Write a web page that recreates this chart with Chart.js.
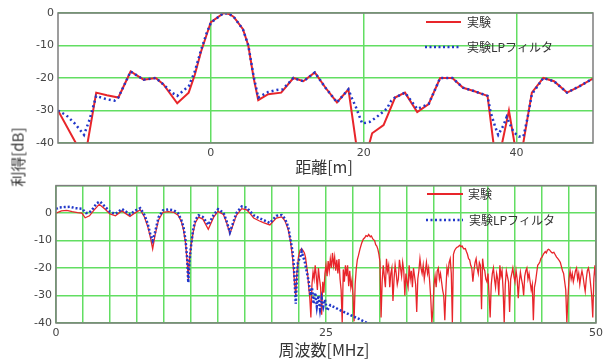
<!DOCTYPE html>
<html>
<head>
<meta charset="utf-8">
<script src="https://cdn.jsdelivr.net/npm/chart.js@4"></script>
<style>
  body { margin: 0; background: #fff; width: 608px; height: 361px; position: relative; overflow: hidden; font-family: "Noto Sans CJK JP", sans-serif; }
  #topChart { position: absolute; left: 0; top: 0; }
  #bottomChart { position: absolute; left: 0; top: 175px; }
  .title { position: absolute; color: #333; font-size: 16px; white-space: nowrap; transform: translate(-50%, -50%); }
  .ytitle { font-size: 15px; transform: translate(-50%, -50%) rotate(-90deg); }
</style>
</head>
<body>
<canvas id="topChart" width="608" height="180"></canvas>
<canvas id="bottomChart" width="608" height="186"></canvas>
<div class="title" style="left:324px; top:166px;">距離[m]</div>
<div class="title" style="left:324px; top:349px;">周波数[MHz]</div>
<div class="title ytitle" style="left:17px; top:157px;">利得[dB]</div>
<script>
// 上段: 距離応答 (x: 距離[m], y: 利得[dB])
const distRed = [-20, -16.5, -15, -13.6, -12.1, -10.5, -8.8, -7.2, -6.2, -4.4, -2.9, -2.1, -1.3, -0.6, 0, 1.7, 2.4, 3, 4.2, 4.9, 5.6, 6.2, 7.5, 9.2, 10.8, 12.1, 13.6, 15, 16.5, 18, 19.6, 21.1, 22.6, 24.1, 25.4, 27, 28.5, 30, 31.6, 33, 34.4, 36.2, 37.4, 39, 40.3, 42, 43.5, 44.9, 46.6, 48.1, 49.9, 50]
const gainRed = [-30, -45, -24.5, -25.3, -26, -18, -20.5, -20, -22, -27.8, -24.5, -19, -12, -7, -2.8, 0, -0.3, -1.2, -5, -10, -20, -26.8, -25, -24.5, -20, -21, -18.3, -23, -27.5, -23.5, -50, -37, -34.5, -26, -24.5, -30.5, -28, -20, -20, -23, -24, -25.5, -48, -30, -48, -24.5, -20, -21, -24.5, -22.7, -20.3, -20.5]

const distLP = [-20, -18.9, -17.8, -16.6, -15.9, -15, -13.7, -12.6, -12.1, -10.5, -8.8, -7.2, -6.2, -5.1, -4.4, -2.9, -2.1, -1.3, -0.6, 0, 1.7, 2.4, 3, 4.2, 4.9, 5.6, 6.2, 7.5, 8.6, 9.4, 10.8, 12.1, 13.6, 15, 16.5, 18, 18.5, 18.9, 19.8, 20.8, 21.7, 23, 23.6, 24.1, 25.4, 27, 28.5, 30, 31.6, 33, 34.4, 36.2, 36.6, 37.2, 37.6, 38.3, 38.7, 39.6, 40.3, 40.9, 41.5, 42, 43.5, 44.9, 46.6, 48.1, 49.9, 50]
const gainLP = [-30, -31.5, -34, -37.5, -33, -25.5, -26.5, -27, -26, -18, -20.5, -20, -22, -24.5, -25.5, -22.5, -18, -11.5, -6.5, -3, 0, -0.3, -1.2, -5, -10, -19.5, -26, -24.3, -23.7, -23.5, -20, -21, -18.3, -23, -27.5, -23.5, -26.5, -28.5, -34, -33.5, -32, -29.5, -27, -26, -24.5, -29.5, -28, -20, -20, -23, -24, -25.5, -30.5, -35, -37.5, -34.5, -32, -36.6, -38, -38, -31.5, -25, -20, -21, -24.5, -22.7, -20.3, -20.5]
const distTicks = [0, 20, 40]

// 下段: 周波数応答 (x: 周波数[MHz], y: 利得[dB])
const freqRed = [
  0, 0.5, 1, 1.5, 2, 2.4, 2.7, 3.1, 3.5, 4, 4.5, 5, 5.5, 6.1, 6.5, 6.85, 7.3, 7.8, 8.2, 8.5,
  8.75, 8.95, 9.17, 9.5, 9.9, 10.4, 10.9, 11.3, 11.6, 11.8, 12, 12.15, 12.25, 12.35, 12.5, 12.7, 12.9, 13.2, 13.6, 14.1,
  14.6, 15, 15.5, 15.8, 16.1, 16.4, 16.7, 17.2, 17.65, 18, 18.3, 18.8, 19.2, 19.8, 20.4, 20.9, 21.2, 21.5, 21.7, 21.9,
  22, 22.1, 22.2, 22.3, 22.45, 22.6, 22.75, 22.9,
  23, 23.1, 23.2, 23.3, 23.4, 23.5, 23.6, 23.7, 23.8, 23.9,
  24, 24.1, 24.2, 24.3, 24.4, 24.5, 24.6, 24.7, 24.8, 24.9,
  25, 25.1, 25.2, 25.3, 25.4, 25.5, 25.6, 25.7, 25.8, 25.9,
  26, 26.1, 26.2, 26.3, 26.4, 26.5, 26.6, 26.7, 26.8, 26.9,
  27, 27.1, 27.2, 27.3, 27.4, 27.5, 27.6, 27.7, 27.8, 27.9,
  28, 28.15, 28.3, 28.45, 28.6, 28.7, 28.85, 28.95, 29.1, 29.2,
  29.35, 29.5, 29.6, 29.7, 29.8, 29.9, 30, 30.1,
  30.2, 30.3, 30.4, 30.5, 30.6, 30.7, 30.8, 30.9, 31, 31.1,
  31.2, 31.3, 31.4, 31.5, 31.6, 31.7, 31.8, 31.9, 32, 32.1,
  32.2, 32.3, 32.4, 32.5, 32.6, 32.7, 32.8, 32.9, 33, 33.1,
  33.2, 33.3, 33.4, 33.5, 33.6, 33.7, 33.8, 33.9, 34, 34.1,
  34.2, 34.3, 34.4, 34.5, 34.6, 34.7, 34.8, 34.9, 35, 35.1,
  35.2, 35.3, 35.4, 35.5, 35.6, 35.7, 35.8, 35.9, 36, 36.1,
  36.2, 36.3, 36.4, 36.5, 36.6, 36.7, 36.8, 36.9, 37, 37.1,
  37.25, 37.4, 37.5, 37.6, 37.75, 37.9, 38, 38.1, 38.2, 38.3,
  38.4, 38.5, 38.6,
  38.7, 38.8, 38.9, 39, 39.1, 39.2, 39.3, 39.4, 39.5, 39.6,
  39.7, 39.8, 39.9, 40, 40.1, 40.2, 40.3, 40.4, 40.5, 40.6,
  40.7, 40.8, 40.9, 41, 41.1, 41.2, 41.3, 41.4, 41.5, 41.6,
  41.7, 41.8, 41.9, 42, 42.1, 42.2, 42.3, 42.4, 42.5, 42.6,
  42.7, 42.8, 42.9, 43, 43.1, 43.2, 43.3, 43.4, 43.5, 43.6,
  43.7, 43.8, 43.9, 44, 44.1, 44.2, 44.3, 44.4, 44.5, 44.6,
  44.7, 44.8, 44.9, 45, 45.15, 45.3, 45.4, 45.5, 45.6, 45.7,
  45.85, 45.95, 46.1, 46.2, 46.35, 46.45, 46.6, 46.7, 46.8, 46.9, 47,
  47.1, 47.2, 47.3, 47.4, 47.5, 47.6, 47.7, 47.8, 47.9, 48,
  48.1, 48.2, 48.3, 48.4, 48.5, 48.6, 48.7, 48.8, 48.9, 49,
  49.1, 49.2, 49.3, 49.4, 49.5, 49.6, 49.7, 49.8, 49.9, 50
]
const gainRedF = [
  0, 0.8, 1, 0.5, 0.2, 0, -1.7, -1, 1, 3.2, 1.6, -0.3, -1, 0.8, -0.3, -1.2, 0, 1.2, -1.5, -5,
  -9, -13, -8, -2.5, 0.3, 0.5, 0.3, -0.8, -3, -6, -11, -18, -24, -17, -12, -7, -3.5, -1.5, -2.2, -5.9,
  -1.5, 0.6, -0.5, -3.5, -7.5, -4.2, -0.8, 1.6, 1.2, -0.3, -1.8, -2.8, -3.5, -4.3, -1.8, -1.4, -2.8, -6, -10, -16,
  -21, -26, -30, -22, -16, -13.5, -13, -13.8,
  -14.5, -16, -19, -22, -27, -31, -38, -26, -21.5, -24,
  -19, -23, -28, -20, -24, -27, -37, -25, -29, -22,
  -19, -23, -17.5, -21, -16.7, -20, -14.5, -19, -16, -21,
  -17, -22, -16.7, -24, -28, -40, -20.5, -25, -19, -23,
  -19, -26.6, -21, -27, -24.4, -30, -39.4, -26, -20.3, -17,
  -15.5, -13, -11, -9.5, -8.9, -8.2, -8.5, -7.8, -8.6, -8.3,
  -9.5, -10, -11.5, -12, -13.1, -15, -17.8, -38,
  -24.9, -19, -23, -27, -16.6, -21, -19, -27, -22, -20,
  -32, -24, -18.9, -22, -26, -24, -17, -20, -23, -18,
  -21, -30, -22, -25, -27, -19, -24, -21, -27, -20,
  -23, -26, -36, -24, -21, -16.6, -20, -22, -19, -24,
  -21, -18, -22, -20, -25, -31, -40, -35, -26, -23,
  -27, -21, -20, -24, -22, -25, -28, -30, -39, -28,
  -20, -22, -18, -16.6, -22, -40, -15, -13.7, -13, -12.5,
  -12.2, -11.7, -12.3, -12, -13, -12.9, -14, -15, -16.6, -17,
  -19, -20, -25,
  -21, -18, -16.6, -20, -22, -18, -19, -35, -16.6, -20,
  -21, -24, -25, -22, -30, -38, -26, -22, -20, -24,
  -27, -22, -24, -30, -19, -23, -21, -28, -40, -26,
  -21, -23, -25, -36, -24, -22, -20, -23, -25, -21,
  -24, -31, -25, -21.5, -24, -26, -30, -23, -21, -20,
  -24, -22, -25, -28, -26, -39, -27, -25, -22, -19,
  -18.5, -17.8, -16.5, -16, -14.8, -14, -14.5, -13.5, -13.2, -13.4,
  -14.2, -14.5, -14.3, -15, -16, -16.5, -17.3, -18, -19.5, -21, -22,
  -25, -28, -40, -31, -24, -21, -24, -22, -25, -23,
  -21, -20, -24, -22, -26, -23, -21, -23, -26, -28.5,
  -24, -21, -20, -22, -26, -30, -38, -24, -19, -25
]

const freqLP = [0, 0.3, 0.8, 1.3, 1.8, 2.4, 2.8, 3.1, 3.4, 3.77, 4.07, 4.5, 5, 5.5, 6.1, 6.5, 6.85, 7.3, 7.8, 8.2, 8.5, 8.75, 8.95, 9.17, 9.5, 9.9, 10.4, 10.9, 11.3, 11.6, 11.8, 12, 12.15, 12.25, 12.35, 12.5, 12.7, 12.9, 13.2, 13.6, 14.1, 14.6, 15, 15.5, 15.8, 16.1, 16.4, 16.7, 17.2, 17.65, 18, 18.3, 18.8, 19.2, 19.8, 20.4, 20.9, 21.2, 21.5, 21.7, 21.9, 22, 22.1, 22.2, 22.3, 22.4, 22.65, 22.75, 22.9, 23.05, 23.2, 23.4, 23.55, 23.7, 23.85, 24, 24.15, 24.3, 24.45, 24.6, 24.75, 24.9, 25.1, 25.4, 26.3, 27.2, 28.1, 28.8, 30]
const gainLPF = [1.5, 2, 2.2, 2.3, 1.8, 1.6, 0, 0.2, 1.5, 3.6, 4.2, 2.5, 0.5, -0.3, 1.5, 0.5, -0.5, 0.8, 1.8, -0.8, -4, -8, -10, -7, -1.5, 1, 1.3, 1, 0, -2.5, -5, -10, -17, -25.3, -18, -12, -6, -2.5, -0.8, -1.4, -4.3, -0.7, 1.4, 0.2, -3, -7, -3.5, 0, 2.4, 2, 0.5, -0.8, -1.8, -2.5, -3.6, -1, -0.7, -2, -5, -9.4, -14, -18, -25, -33, -24, -18, -15.5, -14, -16, -18, -21, -25, -30, -27, -33, -29, -34, -30, -35, -31, -34, -31.5, -35.5, -33.5, -35.3, -37, -38.6, -40, -42]
const freqTicks = [0, 25, 50]

const RED = "#e8252a"
const BLUE = "#2137c9"
const GRID = "#62de62"

const pts = (xs, ys) => xs.map((x, i) => ({ x, y: ys[i] }))

// 枠線 (プロット領域の四辺)
const frame = {
  id: "frame",
  afterDatasetsDraw(chart) {
    const { ctx, chartArea: a } = chart
    ctx.save()
    ctx.strokeStyle = "#7d7d7d"
    ctx.lineWidth = 1.5
    ctx.strokeRect(a.left, a.top, a.right - a.left, a.bottom - a.top)
    ctx.restore()
  }
}

// 凡例はプロット内の右上に手描き
const legendBox = {
  id: "legendBox",
  afterDraw(chart, args, opts) {
    const ctx = chart.ctx
    ctx.save()
    opts.items.forEach(it => {
      ctx.beginPath()
      ctx.strokeStyle = it.color
      ctx.lineWidth = it.width
      ctx.setLineDash(it.dash || [])
      ctx.moveTo(it.x1, it.y)
      ctx.lineTo(it.x2, it.y)
      ctx.stroke()
      ctx.setLineDash([])
      ctx.fillStyle = "#333"
      ctx.font = '12px "Noto Sans CJK JP"'
      ctx.textBaseline = "middle"
      ctx.fillText(it.label, it.tx, it.y)
    })
    ctx.restore()
  }
}

const tickFont = { family: "DejaVu Sans", size: 11 }

function baseOptions(pad, yWidth, xHeight) {
  return {
    responsive: false,
    animation: false,
    events: [],
    layout: { padding: pad },
    plugins: { legend: { display: false }, tooltip: { enabled: false } },
    elements: { point: { radius: 0 }, line: { tension: 0 } },
    scales: {
      x: {
        type: "linear",
        border: { display: false },
        grid: { color: GRID, lineWidth: 1.5, drawTicks: false },
        ticks: { color: "#444", font: tickFont, padding: 4, maxRotation: 0, autoSkip: false },
        afterFit: s => { s.height = xHeight }
      },
      y: {
        border: { display: false },
        grid: { color: GRID, lineWidth: 1.5, drawTicks: false },
        ticks: { color: "#444", font: tickFont, padding: 4, stepSize: 10 },
        afterFit: s => { s.width = yWidth }
      }
    }
  }
}

const topOpts = baseOptions({ top: 13, right: 15, left: 0, bottom: 0 }, 58, 37)
topOpts.scales.x.min = -20
topOpts.scales.x.max = 50
topOpts.scales.x.afterBuildTicks = s => { s.ticks = distTicks.map(v => ({ value: v })) }
topOpts.scales.y.min = -40
topOpts.scales.y.max = 0
topOpts.plugins.legendBox = {
  items: [
    { label: "実験", color: RED, width: 2, x1: 426, x2: 461, tx: 467, y: 22 },
    { label: "実験LPフィルタ", color: BLUE, width: 2.5, dash: [2, 2.5], x1: 425, x2: 461, tx: 467, y: 47 }
  ]
}

new Chart(document.getElementById("topChart"), {
  type: "line",
  data: {
    datasets: [
      { label: "実験", data: pts(distRed, gainRed), borderColor: RED, borderWidth: 2, order: 2 },
      { label: "実験LPフィルタ", data: pts(distLP, gainLP), borderColor: BLUE, borderWidth: 2.5, borderDash: [2, 3], order: 1 }
    ]
  },
  options: topOpts,
  plugins: [frame, legendBox]
})

const botOpts = baseOptions({ top: 7, right: 12, left: 0, bottom: 0 }, 56, 38)
botOpts.scales.x.min = 0
botOpts.scales.x.max = 50
botOpts.scales.x.ticks.stepSize = 2.5
botOpts.scales.x.ticks.callback = v => (freqTicks.includes(v) ? v : "")
botOpts.scales.y.min = -40
botOpts.scales.y.max = 10
botOpts.scales.y.ticks.callback = v => (v > 0 ? "" : v)
botOpts.plugins.legendBox = {
  items: [
    { label: "実験", color: RED, width: 2, x1: 427, x2: 463, tx: 468, y: 19 },
    { label: "実験LPフィルタ", color: BLUE, width: 2.5, dash: [2, 2.5], x1: 426, x2: 463, tx: 469, y: 45 }
  ]
}

new Chart(document.getElementById("bottomChart"), {
  type: "line",
  data: {
    datasets: [
      { label: "実験", data: pts(freqRed, gainRedF), borderColor: RED, borderWidth: 1.3, order: 2 },
      { label: "実験LPフィルタ", data: pts(freqLP, gainLPF), borderColor: BLUE, borderWidth: 2.5, borderDash: [2, 2], order: 1 }
    ]
  },
  options: botOpts,
  plugins: [frame, legendBox]
})
</script>
</body>
</html>
